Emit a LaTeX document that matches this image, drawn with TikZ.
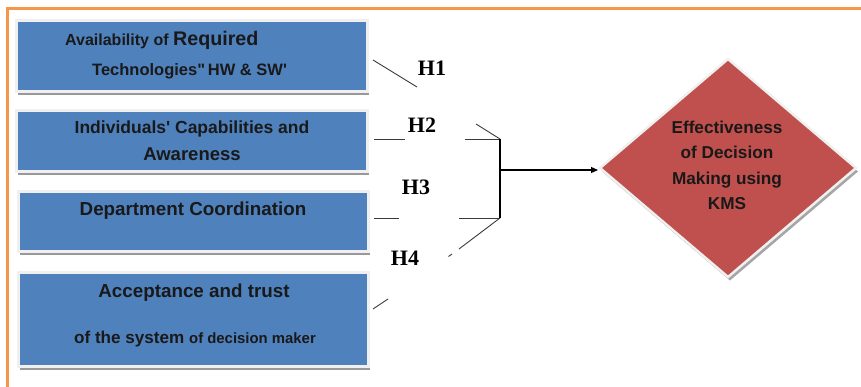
\documentclass[tikz,border=0pt]{standalone}
\usepackage{fontspec}
\setmainfont{Liberation Sans}
\newfontfamily\hfont{Liberation Serif}
\usetikzlibrary{shadows,arrows.meta}
\newcommand\sqmark{\XeTeXglyph\XeTeXcharglyph"27\relax}
\newcommand\dqmark{\XeTeXglyph\XeTeXcharglyph"22\relax}
\definecolor{boxblue}{HTML}{4F81BD}
\definecolor{dred}{HTML}{C0504D}
\definecolor{frameor}{HTML}{F79646}
\definecolor{lnk}{HTML}{3A3A3A}
\tikzset{
  box/.style={rectangle, fill=boxblue, draw=white!94!black, line width=2.5pt, inner sep=0pt,
    drop shadow={shadow xshift=1.5pt, shadow yshift=-3.5pt, fill=black!40, opacity=1}},
  btxt/.style={font=\bfseries, inner sep=0pt, text=black!90},
  hlab/.style={font=\hfont\bfseries\fontsize{22}{22}\selectfont, inner sep=0pt},
  link/.style={draw=lnk, line width=0.9pt},
  main/.style={draw=black, line width=1.1pt}
}
\begin{document}
\begin{tikzpicture}[x=1pt,y=-1pt]
\useasboundingbox (0,0) rectangle (861,387);
% frame
\draw[frameor, line width=3pt] (7,387) -- (7,9) -- (861,9);
% boxes
\node[box, minimum width=351pt, minimum height=71pt] (b1) at (192,56) {};
\node[box, minimum width=351pt, minimum height=61pt] (b2) at (192,141) {};
\node[box, minimum width=350pt, minimum height=60pt] (b3) at (193.5,221.5) {};
\node[box, minimum width=350pt, minimum height=94pt] (b4) at (193.5,319.5) {};
% box texts
\node[btxt, anchor=base west] (t1a) at (65,46) {\fontsize{16}{16}\selectfont Availability of \fontsize{19.7}{19}\selectfont Required};
\node[btxt, anchor=base west] (t1b) at (92,76) {\fontsize{16.5}{16}\selectfont Technologies\dqmark\,HW \& SW\sqmark};
\node[btxt, anchor=base] (t2a) at (192,134) {\fontsize{17.5}{17}\selectfont Individuals\sqmark\ Capabilities and};
\node[btxt, anchor=base] (t2b) at (192,161) {\fontsize{18.5}{17}\selectfont Awareness};
\node[btxt, anchor=base] (t3) at (193,216) {\fontsize{18.8}{17}\selectfont Department Coordination};
\node[btxt, anchor=base] (t4a) at (194,297) {\fontsize{18.8}{17}\selectfont Acceptance and trust};
\node[btxt, anchor=base] (t4b) at (195,343) {\fontsize{17.1}{15}\selectfont of the system \fontsize{14.9}{13}\selectfont of decision maker};
% H labels
\node[hlab] (h1) at (432,68) {H1};
\node[hlab] (h2) at (422,125) {H2};
\node[hlab] (h3) at (416,187) {H3};
\node[hlab] (h4) at (405,258) {H4};
% coordinates
\coordinate (s1) at (373,60);
\coordinate (e1) at (417,87);
\coordinate (s2) at (374,139);
\coordinate (m2a) at (405,139);
\coordinate (m2b) at (465,139);
\coordinate (j2) at (500,139);
\coordinate (d2) at (476,124);
\coordinate (s3) at (374,218);
\coordinate (m3a) at (399,218);
\coordinate (m3b) at (459,218);
\coordinate (j3) at (500,218);
\coordinate (d3) at (459,249);
\coordinate (d3a) at (452,254);
\coordinate (d3b) at (448.5,256.5);
\coordinate (s4) at (373,309);
\coordinate (e4) at (388,299);
\coordinate (jm) at (500,170);
% links
\draw[link] (s1) -- (e1);
\draw[link] (s2) -- (m2a);
\draw[link] (m2b) -- (j2);
\draw[link] (d2) -- (j2);
\draw[link] (s3) -- (m3a);
\draw[link] (m3b) -- (j3);
\draw[link] (j3) -- (d3);
\draw[link] (d3a) -- (d3b);
\draw[link] (s4) -- (e4);
\draw[main] (j2) -- (j3);
% diamond
\coordinate (dw) at (600,168);
\coordinate (dn) at (728,59);
\coordinate (de) at (856,168);
\coordinate (ds) at (728,277);
\fill[black!35] ([shift={(2,3.5)}]dw) -- ([shift={(2,3.5)}]dn) -- ([shift={(2,3.5)}]de) -- ([shift={(2,3.5)}]ds) -- cycle;
\filldraw[fill=dred, draw=white!94!black, line width=2.5pt] (dw) -- (dn) -- (de) -- (ds) -- cycle;
\draw[main, -{Triangle[length=7pt,width=6pt]}] (jm) -- ([xshift=-2pt]dw |- jm);
\node[btxt, align=center, font=\bfseries\fontsize{17.2}{25.3}\selectfont, anchor=north] (dt) at (727,121) {Effectiveness\\of Decision\\Making using\\KMS};
\end{tikzpicture}
\end{document}
